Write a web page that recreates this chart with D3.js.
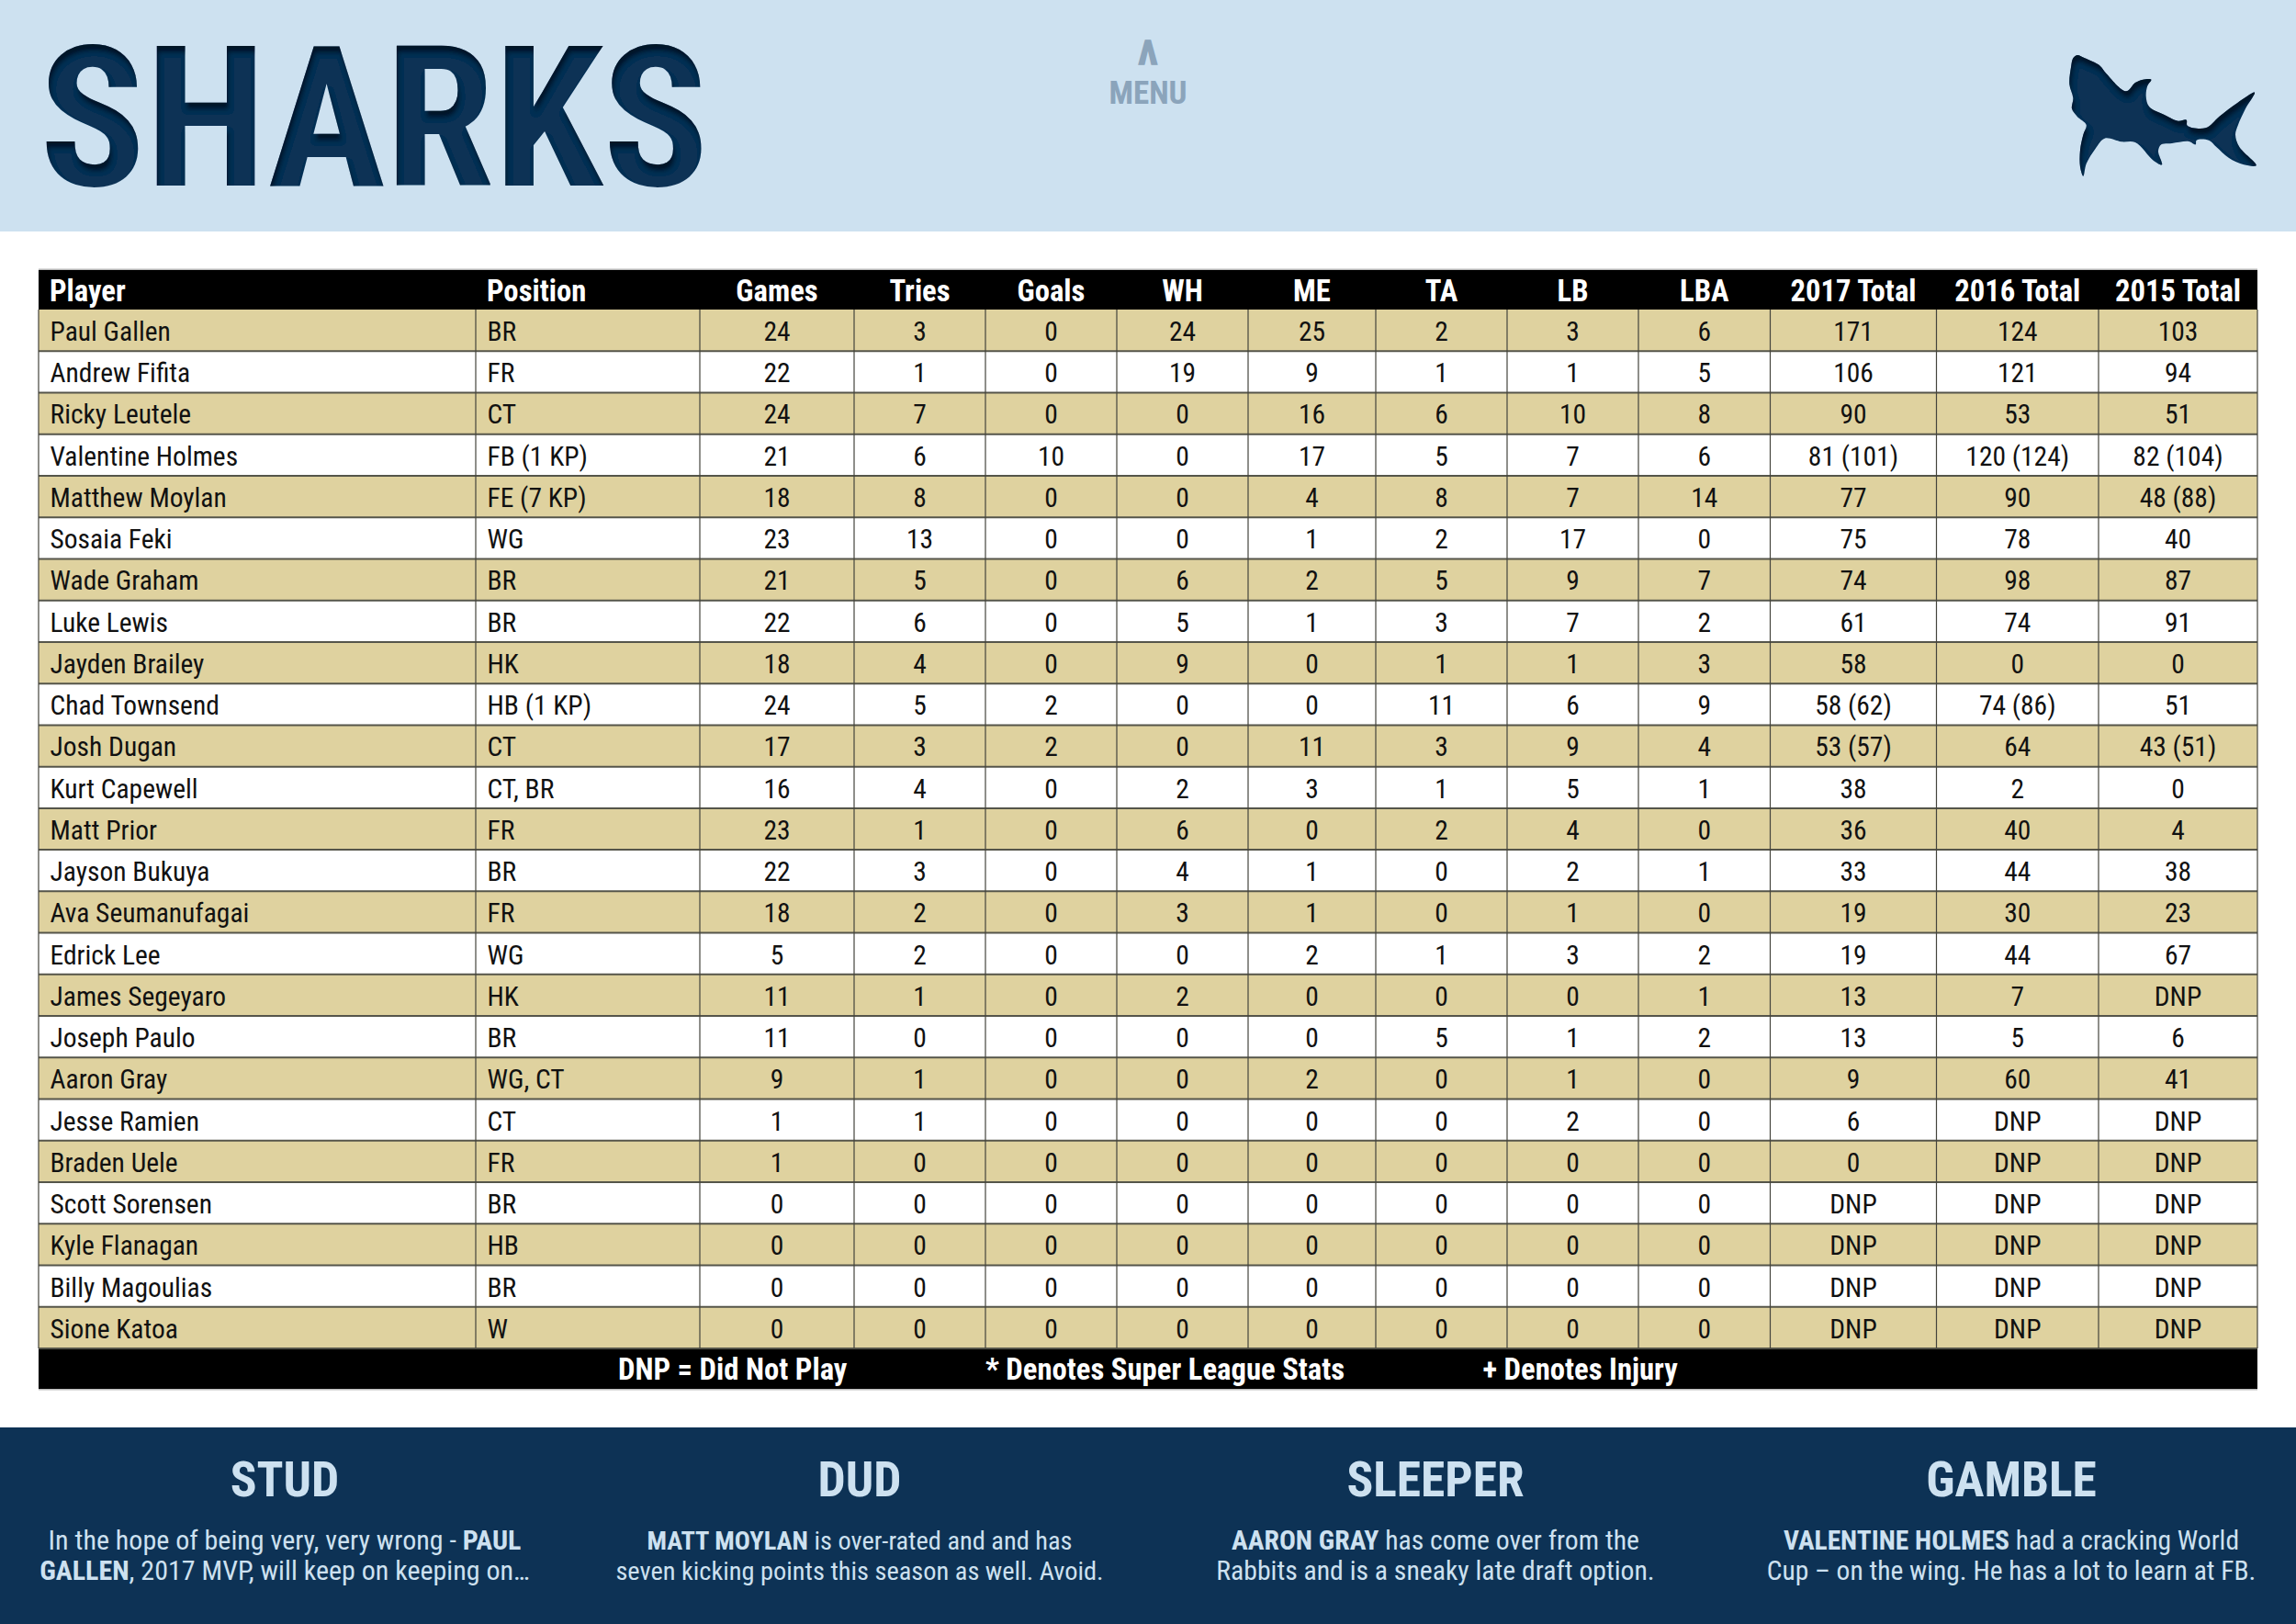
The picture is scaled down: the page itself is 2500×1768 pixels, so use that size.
<!DOCTYPE html>
<html lang="en">
<head>
<meta charset="UTF-8">
<title>Sharks</title>
<script src="https://cdnjs.cloudflare.com/ajax/libs/d3/7.8.2/d3.min.js"></script>
<style>
  html, body { margin: 0; padding: 0; background: #fff; }
  svg { display: block; }
  text { font-family: "Roboto Condensed", Roboto, sans-serif; font-stretch: 75%; }
</style>
</head>
<body>
<div class="canvas"></div>
<script>
// table data, one list per column
const columns = ['Player', 'Position', 'Games', 'Tries', 'Goals', 'WH', 'ME', 'TA', 'LB', 'LBA', '2017 Total', '2016 Total', '2015 Total'];
const players = ['Paul Gallen', 'Andrew Fifita', 'Ricky Leutele', 'Valentine Holmes', 'Matthew Moylan', 'Sosaia Feki', 'Wade Graham', 'Luke Lewis', 'Jayden Brailey', 'Chad Townsend', 'Josh Dugan', 'Kurt Capewell', 'Matt Prior', 'Jayson Bukuya', 'Ava Seumanufagai', 'Edrick Lee', 'James Segeyaro', 'Joseph Paulo', 'Aaron Gray', 'Jesse Ramien', 'Braden Uele', 'Scott Sorensen', 'Kyle Flanagan', 'Billy Magoulias', 'Sione Katoa'];
const positions = ['BR', 'FR', 'CT', 'FB (1 KP)', 'FE (7 KP)', 'WG', 'BR', 'BR', 'HK', 'HB (1 KP)', 'CT', 'CT, BR', 'FR', 'BR', 'FR', 'WG', 'HK', 'BR', 'WG, CT', 'CT', 'FR', 'BR', 'HB', 'BR', 'W'];
const games = [24, 22, 24, 21, 18, 23, 21, 22, 18, 24, 17, 16, 23, 22, 18, 5, 11, 11, 9, 1, 1, 0, 0, 0, 0];
const tries = [3, 1, 7, 6, 8, 13, 5, 6, 4, 5, 3, 4, 1, 3, 2, 2, 1, 0, 1, 1, 0, 0, 0, 0, 0];
const goals = [0, 0, 0, 10, 0, 0, 0, 0, 0, 2, 2, 0, 0, 0, 0, 0, 0, 0, 0, 0, 0, 0, 0, 0, 0];
const wh = [24, 19, 0, 0, 0, 0, 6, 5, 9, 0, 0, 2, 6, 4, 3, 0, 2, 0, 0, 0, 0, 0, 0, 0, 0];
const me = [25, 9, 16, 17, 4, 1, 2, 1, 0, 0, 11, 3, 0, 1, 1, 2, 0, 0, 2, 0, 0, 0, 0, 0, 0];
const ta = [2, 1, 6, 5, 8, 2, 5, 3, 1, 11, 3, 1, 2, 0, 0, 1, 0, 5, 0, 0, 0, 0, 0, 0, 0];
const lb = [3, 1, 10, 7, 7, 17, 9, 7, 1, 6, 9, 5, 4, 2, 1, 3, 0, 1, 1, 2, 0, 0, 0, 0, 0];
const lba = [6, 5, 8, 6, 14, 0, 7, 2, 3, 9, 4, 1, 0, 1, 0, 2, 1, 2, 0, 0, 0, 0, 0, 0, 0];
const total2017 = ['171', '106', '90', '81 (101)', '77', '75', '74', '61', '58', '58 (62)', '53 (57)', '38', '36', '33', '19', '19', '13', '13', '9', '6', '0', 'DNP', 'DNP', 'DNP', 'DNP'];
const total2016 = ['124', '121', '53', '120 (124)', '90', '78', '98', '74', '0', '74 (86)', '64', '2', '40', '44', '30', '44', '7', '5', '60', 'DNP', 'DNP', 'DNP', 'DNP', 'DNP', 'DNP'];
const total2015 = ['103', '94', '51', '82 (104)', '48 (88)', '40', '87', '91', '0', '51', '43 (51)', '0', '4', '38', '23', '67', 'DNP', '6', '41', 'DNP', 'DNP', 'DNP', 'DNP', 'DNP', 'DNP'];
const columnValues = [players, positions, games, tries, goals, wh, me, ta, lb, lba, total2017, total2016, total2015];

const footnotes = ['DNP = Did Not Play', '* Denotes Super League Stats', '+ Denotes Injury'];
const panelTitles = ['STUD', 'DUD', 'SLEEPER', 'GAMBLE'];
const panelLines = [
  [[['In the hope of being very, very wrong - ', 0], ['PAUL', 1]], [['GALLEN', 1], [', 2017 MVP, will keep on keeping on\u2026', 0]]],
  [[['MATT MOYLAN', 1], [' is over-rated and and has', 0]], [['seven kicking points this season as well. Avoid.', 0]]],
  [[['AARON GRAY', 1], [' has come over from the', 0]], [['Rabbits and is a sneaky late draft option.', 0]]],
  [[['VALENTINE HOLMES', 1], [' had a cracking World', 0]], [['Cup \u2013 on the wing. He has a lot to learn at FB.', 0]]]
];

// shark silhouette, traced
const sharkOutline = [[335, 90], [360, 100], [410, 125], [430, 150], [495, 208], [525, 180], [550, 170], [577, 170], [565, 190], [560, 225], [570, 258], [620, 285], [665, 305], [692, 302], [695, 320], [755, 328], [800, 290], [860, 245], [915, 212], [885, 265], [860, 320], [852, 350], [865, 390], [920, 450], [880, 448], [830, 425], [790, 390], [765, 368], [725, 368], [722, 382], [700, 372], [645, 378], [610, 382], [600, 403], [612, 448], [585, 435], [525, 375], [480, 373], [425, 362], [395, 395], [365, 445], [355, 485], [345, 455], [345, 400], [355, 350], [365, 318], [335, 290], [318, 265], [322, 230], [310, 185], [315, 130], [322, 100]];

const width = 2500;
const height = 1768;
const navy = '#0d3255';
const pale = '#cde1f0';
const tan = '#dfd29f';

const svg = d3.select('.canvas').append('svg')
  .attr('width', width)
  .attr('height', height);

// inner shadow for the cut-out look
const filter = svg.append('defs').append('filter')
  .attr('id', 'inner')
  .attr('x', '-5%').attr('y', '-5%').attr('width', '110%').attr('height', '110%');
filter.append('feOffset').attr('in', 'SourceAlpha').attr('dx', 2).attr('dy', 7).attr('result', 'off');
filter.append('feGaussianBlur').attr('in', 'off').attr('stdDeviation', 2.5).attr('result', 'blur');
filter.append('feComposite').attr('in', 'SourceAlpha').attr('in2', 'blur').attr('operator', 'out').attr('result', 'edge');
filter.append('feFlood').attr('flood-color', '#000').attr('flood-opacity', 0.75);
filter.append('feComposite').attr('in2', 'edge').attr('operator', 'in').attr('result', 'shadow');
const merge = filter.append('feMerge');
merge.append('feMergeNode').attr('in', 'SourceGraphic');
merge.append('feMergeNode').attr('in', 'shadow');

// top band
svg.append('rect').attr('width', width).attr('height', 252).attr('fill', pale);
svg.append('text').attr('x', 43).attr('y', 202)
  .attr('font-size', 214).attr('font-weight', 700).attr('fill', navy)
  .attr('filter', 'url(#inner)').text('SHARKS');
svg.append('text').attr('x', 1250).attr('y', 70).attr('text-anchor', 'middle')
  .attr('font-size', 36).attr('font-weight', 700).attr('fill', '#8ba4bb')
  .attr('stroke', '#8ba4bb').attr('stroke-width', 1.5).text('\u039B');
svg.append('text').attr('x', 1250).attr('y', 113).attr('text-anchor', 'middle')
  .attr('font-size', 35).attr('font-weight', 700).attr('fill', '#8ba4bb').text('MENU');

const sharkX = d3.scaleLinear().domain([0, 1050]).range([2150, 2500]);
const sharkY = d3.scaleLinear().domain([0, 600]).range([30, 230]);
svg.append('path')
  .attr('d', d3.line().x(d => sharkX(d[0])).y(d => sharkY(d[1])).curve(d3.curveCatmullRomClosed.alpha(0.5))(sharkOutline))
  .attr('fill', navy)
  .attr('filter', 'url(#inner)');

// table
const edges = [42, 518, 762, 930, 1073, 1216, 1359, 1498, 1641, 1784, 1927.5, 2108.5, 2285, 2458];
const colLeft = d3.scaleOrdinal().domain(columns).range(edges);
const colRight = d3.scaleOrdinal().domain(columns).range(edges.slice(1));
const colCenter = c => (colLeft(c) + colRight(c)) / 2;
const colX = (c, i) => (i < 2 ? colLeft(c) + 12.5 : colCenter(c));
const colAnchor = (c, i) => (i < 2 ? 'start' : 'middle');

const y = d3.scaleBand().domain(players).range([337, 1468]);
const tableLeft = edges[0];
const tableRight = edges[edges.length - 1];

// faint edge above and below the table
svg.append('rect').attr('x', tableLeft).attr('y', 292.5)
  .attr('width', tableRight - tableLeft).attr('height', 2).attr('fill', '#bbb');
svg.append('rect').attr('x', tableLeft).attr('y', 1511.5)
  .attr('width', tableRight - tableLeft).attr('height', 2).attr('fill', '#bbb');

svg.append('rect').attr('x', tableLeft).attr('y', 294)
  .attr('width', tableRight - tableLeft).attr('height', 43).attr('fill', '#000');

svg.append('g').selectAll('rect')
  .data(players)
  .enter().append('rect')
  .attr('x', tableLeft)
  .attr('y', d => y(d))
  .attr('width', tableRight - tableLeft)
  .attr('height', y.bandwidth())
  .attr('fill', (d, i) => (i % 2 === 0 ? tan : '#fff'));

svg.append('rect').attr('x', tableLeft).attr('y', 1468)
  .attr('width', tableRight - tableLeft).attr('height', 44).attr('fill', '#000');

// grid
svg.append('g').selectAll('line')
  .data(players)
  .enter().append('line')
  .attr('x1', tableLeft).attr('x2', tableRight)
  .attr('y1', d => y(d) + y.bandwidth()).attr('y2', d => y(d) + y.bandwidth())
  .attr('stroke', '#55554a').attr('stroke-width', 2);
svg.append('g').selectAll('line')
  .data(edges)
  .enter().append('line')
  .attr('x1', d => d).attr('x2', d => d)
  .attr('y1', 337).attr('y2', 1468)
  .attr('stroke', '#44443c').attr('stroke-width', 1.2);

// header + cells
svg.append('g').selectAll('text')
  .data(columns)
  .enter().append('text')
  .attr('x', (c, i) => (i < 2 ? colLeft(c) + 12 : colCenter(c)))
  .attr('y', 328)
  .attr('text-anchor', colAnchor)
  .attr('font-size', 32.7).attr('font-weight', 700).attr('fill', '#fff')
  .text(d => d);

columns.forEach((c, ci) => {
  svg.append('g').selectAll('text')
    .data(columnValues[ci])
    .enter().append('text')
    .attr('x', colX(c, ci))
    .attr('y', (d, i) => y(players[i]) + 34)
    .attr('text-anchor', colAnchor(c, ci))
    .attr('font-size', 29.5).attr('fill', '#111')
    .text(d => d);
});

const footX = d3.scaleOrdinal().domain(footnotes).range([673, 1073, 1614.5]);
svg.append('g').selectAll('text')
  .data(footnotes)
  .enter().append('text')
  .attr('x', d => footX(d)).attr('y', 1502)
  .attr('font-size', 32.7).attr('font-weight', 700).attr('fill', '#fff')
  .text(d => d);

// bottom band
svg.append('rect').attr('y', 1554).attr('width', width).attr('height', 214).attr('fill', navy);
const panelX = d3.scaleOrdinal().domain(panelTitles).range([310, 936, 1563, 2190]);
const panelSize = d3.scaleOrdinal().domain(panelTitles).range([30, 28.4, 29.7, 29.5]);
const panels = svg.append('g').selectAll('g')
  .data(panelTitles)
  .enter().append('g');
panels.append('text')
  .attr('x', d => panelX(d)).attr('y', 1629)
  .attr('text-anchor', 'middle')
  .attr('font-size', 53.5).attr('font-weight', 700).attr('fill', pale)
  .text(d => d);
panels.each(function (d, i) {
  d3.select(this).selectAll('.line')
    .data(panelLines[i])
    .enter().append('text')
    .attr('class', 'line')
    .attr('x', panelX(d))
    .attr('y', (l, k) => 1687 + k * 33)
    .attr('text-anchor', 'middle')
    .attr('font-size', panelSize(d)).attr('fill', pale)
    .selectAll('tspan')
    .data(l => l)
    .enter().append('tspan')
    .attr('font-weight', s => (s[1] ? 700 : 400))
    .text(s => s[0]);
});
</script>
</body>
</html>
